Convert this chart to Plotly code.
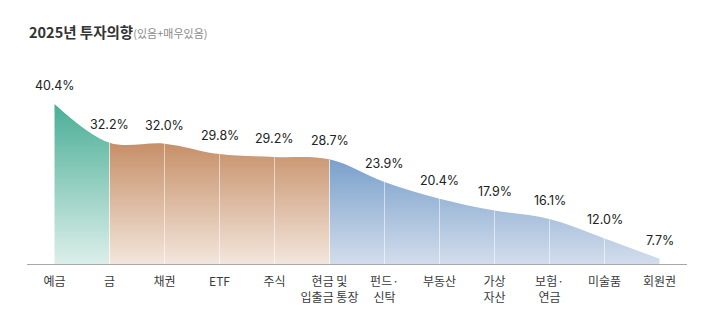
import plotly.graph_objects as go

categories = ["예금", "금", "채권", "ETF", "주식", "현금 및<br>입출금 통장", "펀드·<br>신탁",
              "부동산", "가상<br>자산", "보험·<br>연금", "미술품", "회원권"]
values = [40.4, 32.2, 32.0, 29.8, 29.2, 28.7, 23.9, 20.4, 17.9, 16.1, 12.0, 7.7]
labels = [f"{v:.1f}%" for v in values]

# segment boundaries (category index) and colours
segments = [
    (0, 1, "#dcefea", "#4aae96"),
    (1, 5, "#f3e6dc", "#c68f68"),
    (5, 11, "#d2ddec", "#7aa0cb"),
]

n = len(values)
x = list(range(n))
YMIN, YMAX = 6.6, 46.5
XMIN, XMAX = -0.5, n - 0.5
span = XMAX - XMIN

fig = go.Figure()
layout_axes = {}
for k, (a, b, c0, c1) in enumerate(segments):
    lo = XMIN if k == 0 else a
    hi = XMAX if k == len(segments) - 1 else b
    d0 = (lo - XMIN) / span
    d1 = (hi - XMIN) / span
    ax = f"x{k + 2}"
    layout_axes[f"xaxis{k + 2}"] = dict(domain=[d0, d1], range=[lo, hi], visible=False,
                                        anchor="y", fixedrange=True)
    fig.add_trace(go.Scatter(
        x=x, y=values, xaxis=ax, yaxis="y", mode="lines",
        line=dict(shape="spline", smoothing=1, width=0, color=c1),
        fill="tozeroy",
        fillgradient=dict(type="vertical", start=YMIN, stop=values[a] if k else values[0],
                          colorscale=[[0, c0], [1, c1]]),
        hoverinfo="skip", showlegend=False,
    ))

# axis trace on main x for ticks
fig.add_trace(go.Scatter(x=x, y=values, mode="lines", line=dict(width=0),
                         hoverinfo="skip", showlegend=False, opacity=0))

shapes = []
for i in range(1, n - 1):
    shapes.append(dict(type="line", xref="x", yref="y", x0=i, x1=i, y0=YMIN, y1=values[i],
                       line=dict(color="rgba(255,255,255,0.55)", width=1), layer="above"))

annotations = []
for i, (v, t) in enumerate(zip(values, labels)):
    annotations.append(dict(x=i, y=v, xref="x", yref="y", text=t, showarrow=False,
                            yshift=18.5, font=dict(size=12.5, color="#222",
                                                   family="Inter, 'Noto Sans CJK KR', sans-serif")))

annotations.append(dict(
    xref="paper", yref="paper", x=0, y=(264 - 31) / 189, xanchor="left", yanchor="middle",
    showarrow=False,
    text="<b>2025년 투자의향</b><span style='font-size:11px;color:#8a8a8a'>(있음+매우있음)</span>",
    font=dict(size=14.5, color="#333", family="'Noto Sans CJK KR', sans-serif"),
))

fig.update_layout(
    width=715, height=331,
    margin=dict(l=27, r=27.5, t=75, b=67),
    paper_bgcolor="white", plot_bgcolor="white",
    xaxis=dict(range=[XMIN, XMAX], tickvals=x, ticktext=categories, showgrid=False,
               zeroline=False, showline=True, linecolor="#a8a8a8", linewidth=1,
               ticks="", ticklabelstandoff=7,
               tickfont=dict(size=12, color="#3a3a3a",
                             family="'Noto Sans CJK KR', sans-serif"),
               fixedrange=True),
    yaxis=dict(range=[YMIN, YMAX], visible=False, fixedrange=True),
    shapes=shapes, annotations=annotations,
    **layout_axes,
)

fig.write_html("out.html")
